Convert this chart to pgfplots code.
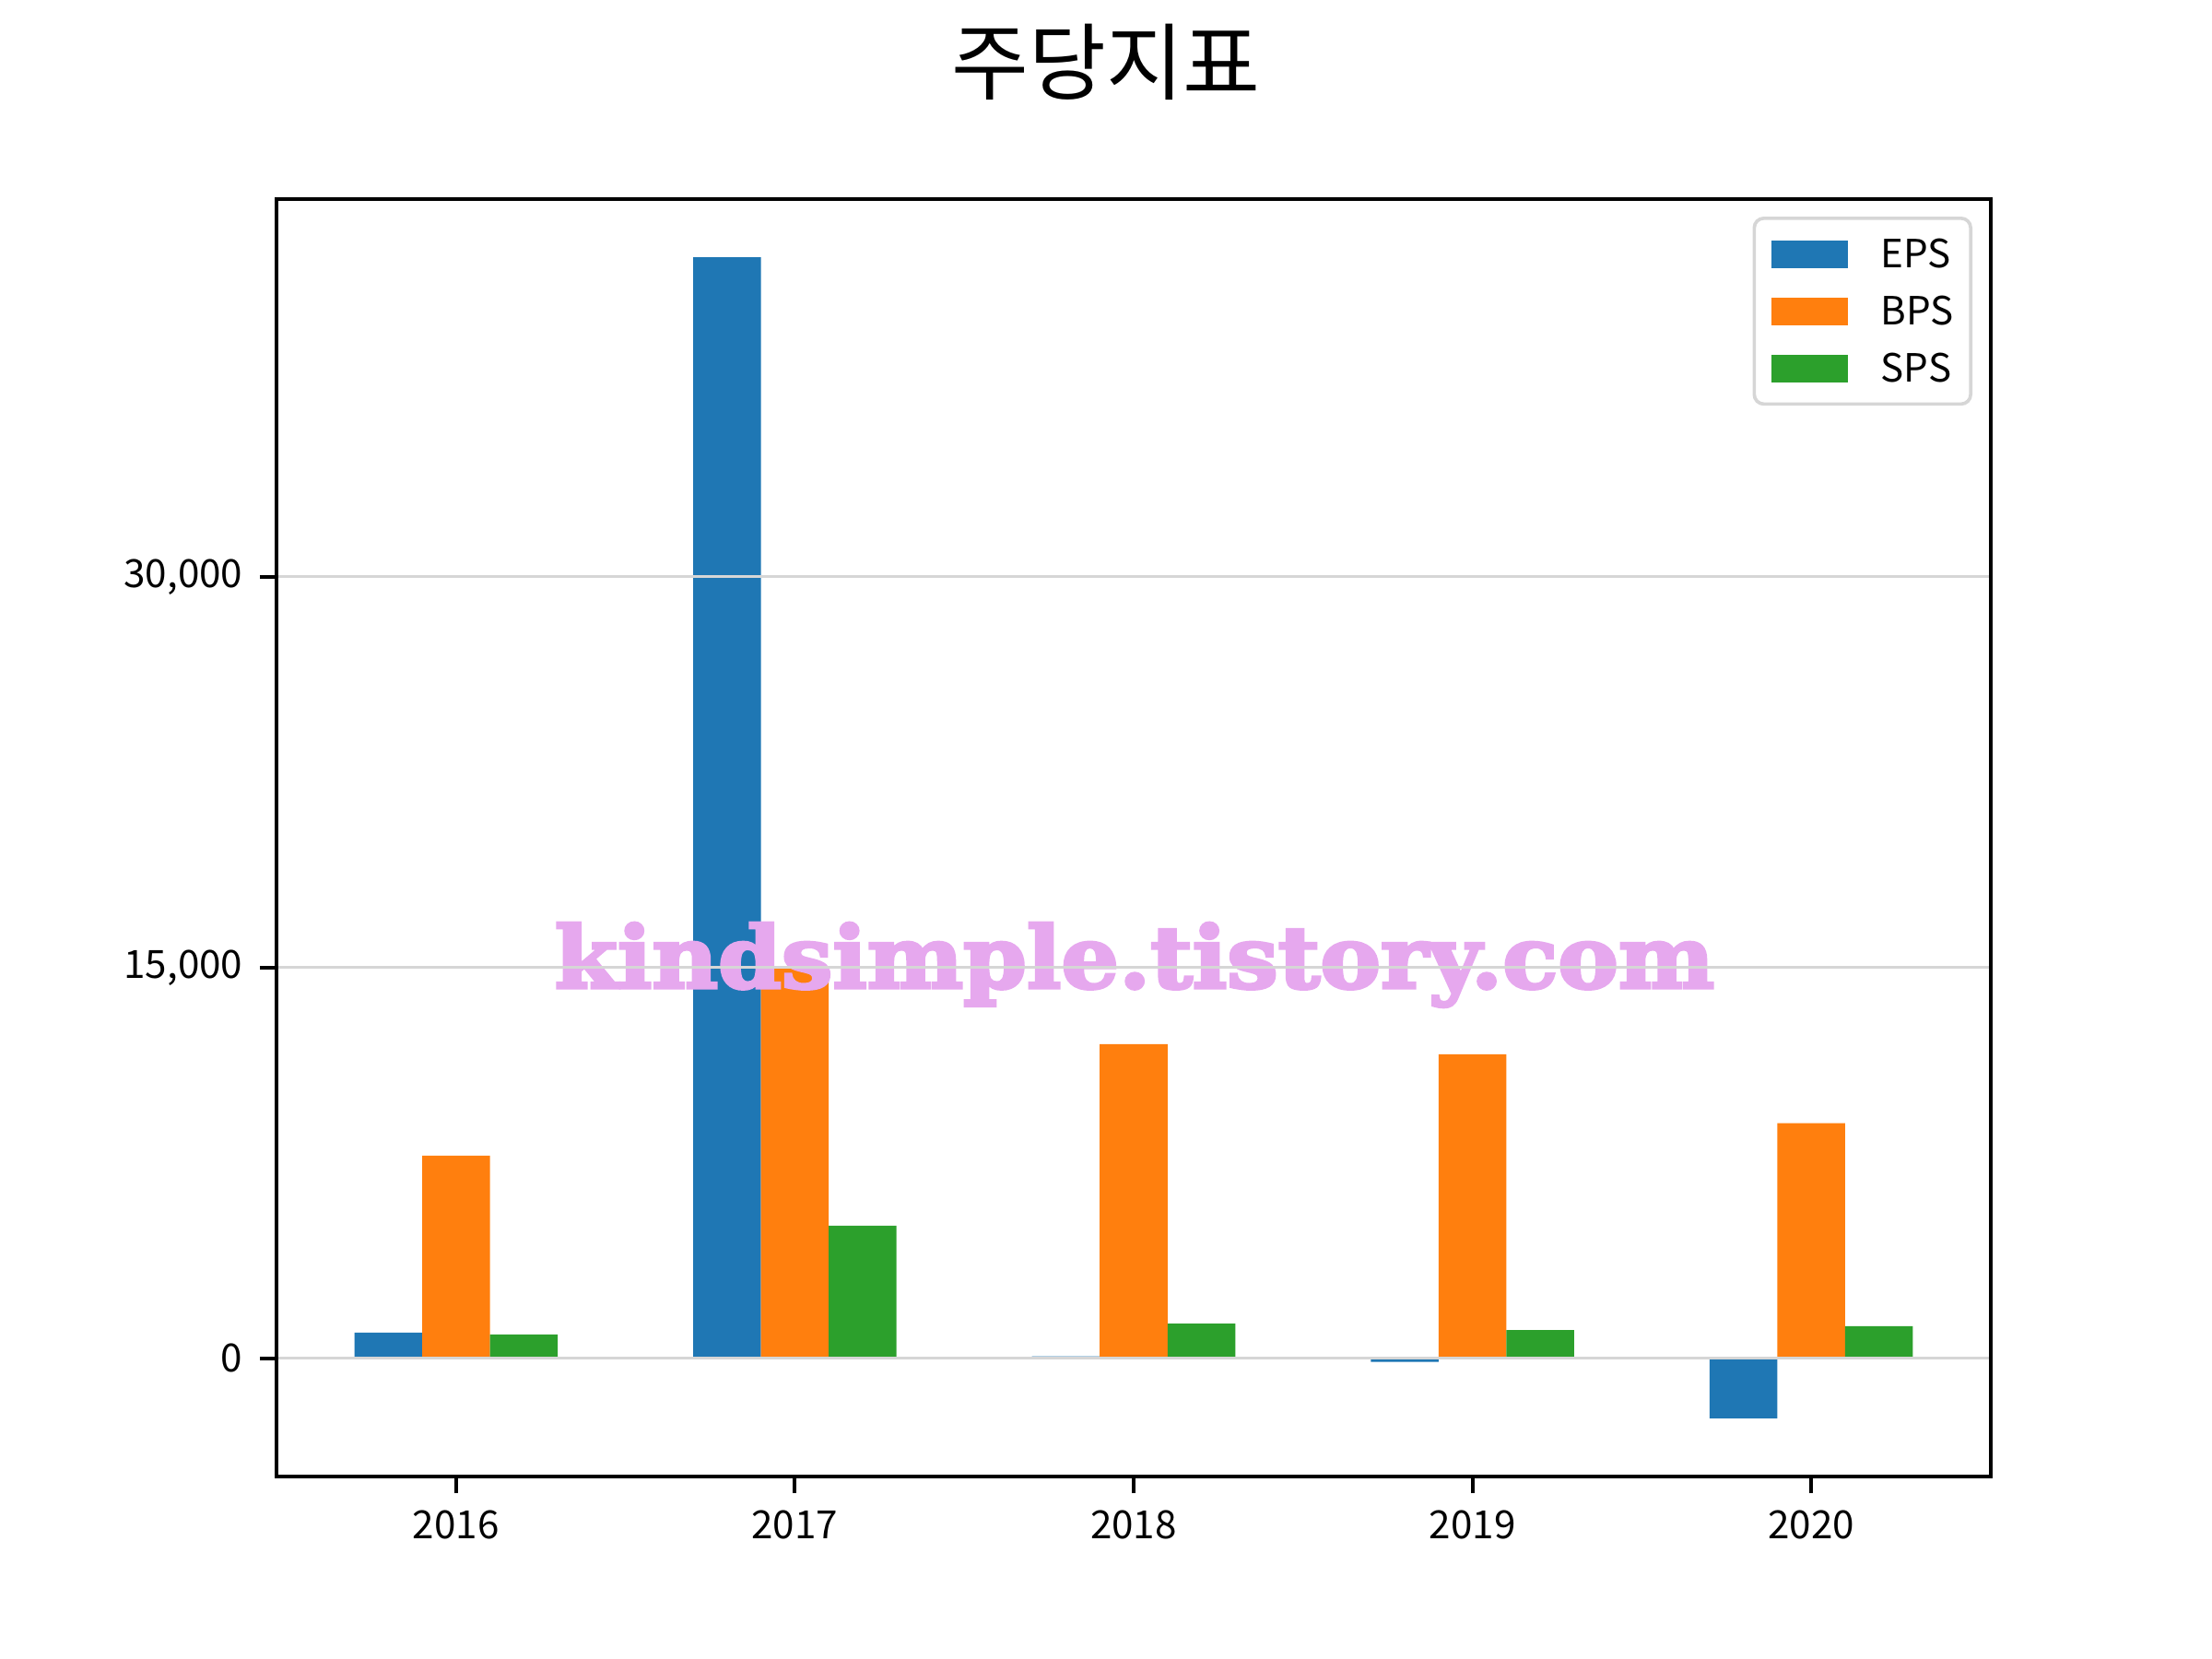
\documentclass[border=0pt]{standalone}
\usepackage{fontspec}
\setmainfont{Noto Sans CJK KR}
\newfontfamily\wmfont{DejaVu Serif}[BoldFont={* Bold}, BoldFeatures={FakeBold=3.5}]
\usepackage{graphicx}
\usepackage{pgfplots}
\pgfplotsset{compat=1.18}
\definecolor{c1}{HTML}{1F77B4}
\definecolor{c2}{HTML}{FF7F0E}
\definecolor{c3}{HTML}{2CA02C}
\definecolor{wm}{HTML}{E6A8EE}
\definecolor{gridc}{HTML}{D6D6D6}
\definecolor{legc}{HTML}{D6D6D6}
\pgfplotsset{mylegend/.style={legend image code/.code={\fill[##1,draw=none,sharp corners] (0pt,-2.88pt) rectangle (16pt,2.88pt);}}}
\begin{document}
\begin{tikzpicture}
\path[use as bounding box] (0,0) rectangle (460.8pt,345.6pt);
\begin{axis}[
  at={(57.6pt,38.02pt)}, anchor=south west,
  scale only axis, width=357.12pt, height=266.11pt,
  xmin=-0.53, xmax=4.53, ymin=-4540, ymax=44500,
  scaled y ticks=false,
  xtick={0,1,2,3,4}, xticklabels={2016,2017,2018,2019,2020},
  ytick={0,15000,30000}, yticklabels={0,{15,000},{30,000}},
  xtick pos=bottom, ytick pos=left,
  tick align=outside, major tick length=3.5pt,
  tick style={line width=0.8pt, black},
  axis line style={line width=0.8pt},
  ymajorgrids, grid style={line width=0.6pt, gridc},
  axis on top,
  ticklabel style={font=\fontsize{8.1}{10}\selectfont},
  ybar, bar width=0.2,
  legend style={at={(rel axis cs:1,1)}, anchor=north east, xshift=-3.84pt, yshift=-3.65pt,
    draw=legc, line width=0.7pt, rounded corners=2pt, inner xsep=3.5pt, inner ysep=4.5pt,
    font=\fontsize{8.1}{10}\selectfont, row sep=6pt,
    nodes={inner xsep=0pt, inner ysep=0pt, text height=5.9pt, text depth=0pt},
    /tikz/every odd column/.append style={column sep=6.9pt}},
  legend cell align=left,
]
\addplot[fill=c1, draw=none, bar shift=-0.2, mylegend] coordinates {(0,980) (1,42270) (2,70) (3,-140) (4,-2310)};
\addplot[fill=c2, draw=none, bar shift=0, mylegend] coordinates {(0,7780) (1,14950) (2,12060) (3,11670) (4,9020)};
\addplot[fill=c3, draw=none, bar shift=0.2, mylegend] coordinates {(0,910) (1,5090) (2,1330) (3,1085) (4,1227)};
\legend{EPS,BPS,SPS}
\node[anchor=base, text=wm, inner sep=0pt] at (rel axis cs:0.5005,0.3824) {\resizebox{241.6pt}{13.6pt}{\wmfont\bfseries kindsimple.tistory.com}};
\end{axis}
\node at (230.4pt,332.6pt) {\fontsize{17.5}{20}\selectfont 주당지표};
\end{tikzpicture}
\end{document}
